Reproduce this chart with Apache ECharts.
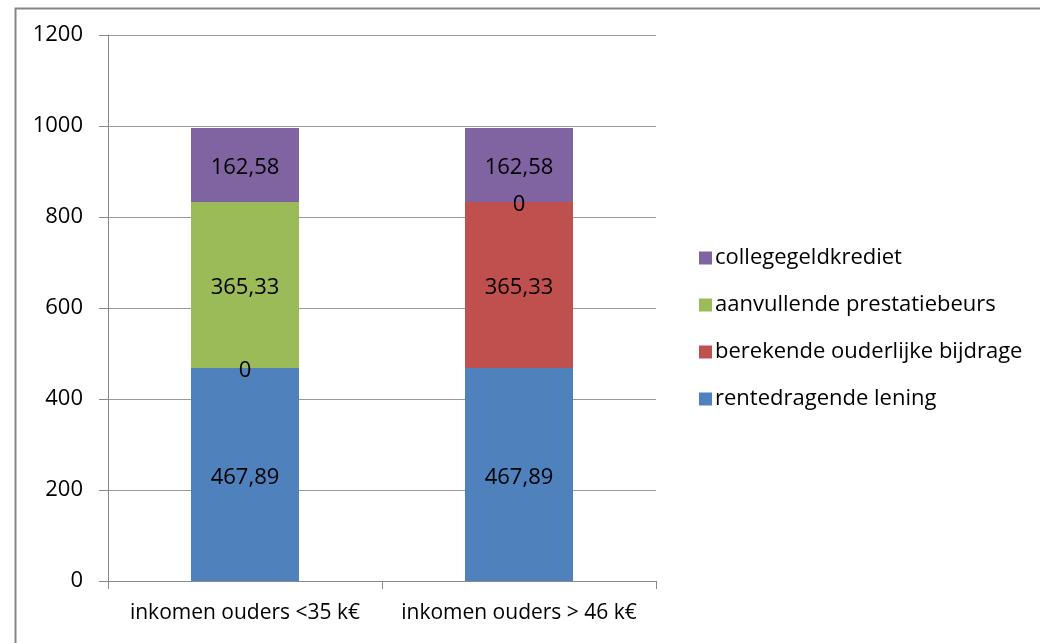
<!DOCTYPE html>
<html>
<head>
<meta charset="utf-8">
<script src="https://cdn.jsdelivr.net/npm/echarts@6/dist/echarts.min.js"></script>
<style>html,body{margin:0;padding:0;background:#fff}#c{width:1040px;height:643px}</style>
</head>
<body>
<div id="c"></div>
<script>
const categories = ['inkomen ouders <35 k€', 'inkomen ouders > 46 k€'];
const seriesNames = ['rentedragende lening', 'berekende ouderlijke bijdrage', 'aanvullende prestatiebeurs', 'collegegeldkrediet'];
const rentedragendeLening = [467.89, 467.89];
const ouderlijkeBijdrage = [0, 365.33];
const prestatiebeurs = [365.33, 0];
const collegegeldkrediet = [162.58, 162.58];
const yTicks = [0, 200, 400, 600, 800, 1000, 1200];
const colors = ['#4F81BD', '#C0504D', '#9BBB59', '#8064A2'];

const values = [rentedragendeLening, ouderlijkeBijdrage, prestatiebeurs, collegegeldkrediet];
const font = '"Open Sans", "Liberation Sans", sans-serif';
const fs = 22;

const chart = echarts.init(document.getElementById('c'), null, {renderer: 'canvas'});
chart.setOption({
  animation: false,
  backgroundColor: '#fff',
  textStyle: {fontFamily: font},
  graphic: [{
    type: 'rect', left: 13, top: 6, silent: true,
    shape: {width: 1040, height: 650},
    style: {fill: 'none', stroke: '#868686', lineWidth: 2}
  }],
  grid: {left: 108, right: 384, top: 35, bottom: 62, containLabel: false},
  legend: {
    orient: 'vertical', left: 694, top: 242, itemGap: 25,
    itemWidth: 13, itemHeight: 13, icon: 'rect',
    data: seriesNames.slice().reverse(),
    textStyle: {fontSize: fs, lineHeight: 22, color: '#000', fontFamily: font, padding: [0, 0, 0, -2]}
  },
  xAxis: {
    type: 'category', data: categories,
    axisLine: {lineStyle: {color: '#888'}},
    axisTick: {show: true, length: 8, lineStyle: {color: '#888'}},
    axisLabel: {fontSize: 21, color: '#000', margin: 22, fontFamily: font, interval: 0, hideOverlap: false}
  },
  yAxis: {
    type: 'value', min: yTicks[0], max: yTicks[yTicks.length - 1], interval: 200,
    axisLine: {show: true, lineStyle: {color: '#888'}},
    axisTick: {show: true, length: 9, lineStyle: {color: '#888'}},
    splitLine: {lineStyle: {color: '#999'}},
    axisLabel: {fontSize: fs, color: '#000', margin: 25, fontFamily: font, padding: [5, 0, 0, 0], formatter: v => String(v)}
  },
  series: seriesNames.map((name, i) => ({
    name: name, type: 'bar', stack: 'total', data: values[i],
    barWidth: 108,
    itemStyle: {color: colors[i]},
    label: {
      show: true, position: 'inside', offset: [0, 3], color: '#000', fontSize: fs, fontFamily: font,
      formatter: p => String(p.value).replace('.', ',')
    }
  }))
});
</script>
</body>
</html>
